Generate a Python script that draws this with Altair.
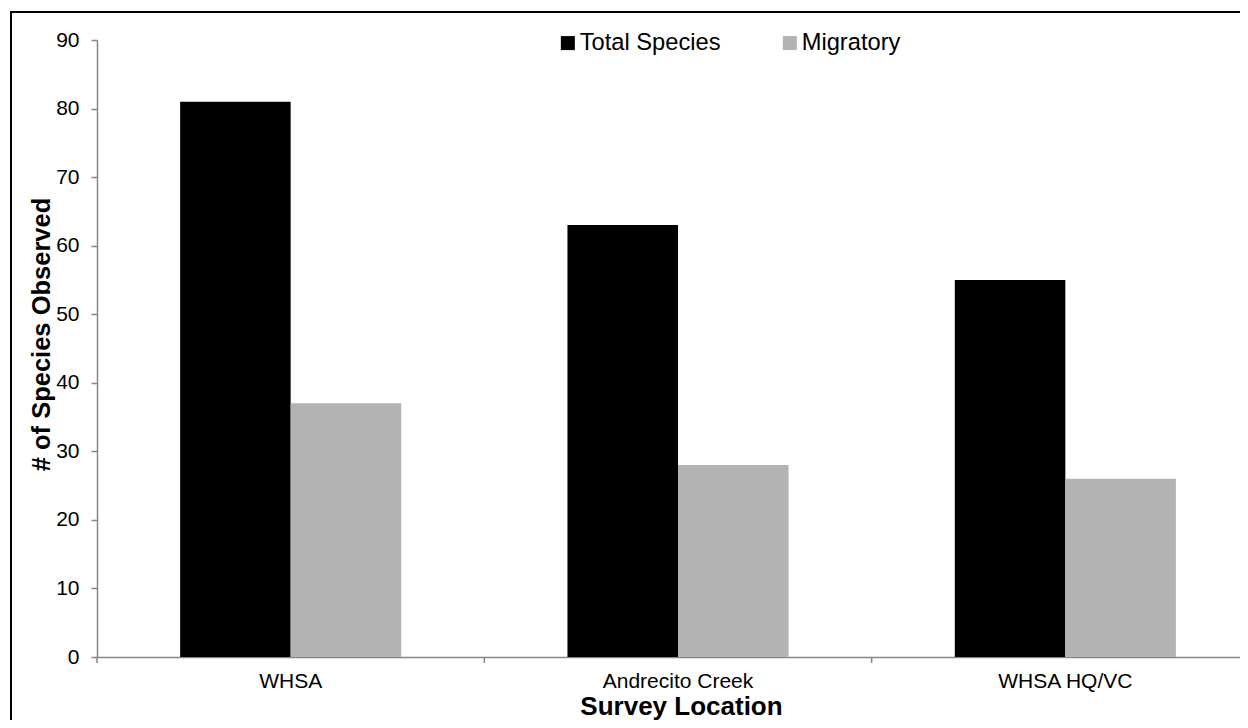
import altair as alt
import pandas as pd

# ---- data ----
locations = ["WHSA", "Andrecito Creek", "WHSA HQ/VC"]
total_species = [81, 63, 55]
migratory = [37, 28, 26]
series_names = ["Total Species", "Migratory"]
series_colors = ["#000000", "#b3b3b3"]
y_ticks = [0, 10, 20, 30, 40, 50, 60, 70, 80, 90]

rows = []
for loc, t, m in zip(locations, total_species, migratory):
    rows.append({"loc": loc, "series": series_names[0], "value": t})
    rows.append({"loc": loc, "series": series_names[1], "value": m})
df = pd.DataFrame(rows)
ticks_df = pd.DataFrame({"loc": locations})
frame_df = pd.DataFrame({"k": [0]})

W = 1143          # visible plot width (the original chart is cropped on the right)
BAND_RANGE = 1162  # full width of the three category bands
H = 617
AXIS = "#868686"
FONT = "Liberation Sans"

x_scale = alt.Scale(domain=locations, range=[0, BAND_RANGE], paddingInner=0, paddingOuter=0)

x_axis = alt.Axis(
    title="Survey Location",
    ticks=False,
    labelAngle=0,
    labelFontSize=21,
    labelFont=FONT,
    labelPadding=13,
    labelColor="#000000",
    domainColor=AXIS,
    domainWidth=1.5,
    titleFontSize=26,
    titleFont=FONT,
    titleFontWeight="bold",
    titleX=584,
    titleY=57,
    titleAlign="center",
    titleBaseline="alphabetic",
    titleColor="#000000",
)

bars = alt.Chart(df).mark_bar(strokeWidth=0).encode(
    x=alt.X("loc:N", scale=x_scale, sort=locations, axis=x_axis),
    xOffset=alt.XOffset(
        "series:N",
        sort=series_names,
        scale=alt.Scale(domain=series_names, paddingInner=0, paddingOuter=0.752),
    ),
    y=alt.Y(
        "value:Q",
        scale=alt.Scale(domain=[0, 90], nice=False),
        axis=alt.Axis(
            values=y_ticks,
            title="# of Species Observed",
            grid=False,
            tickSize=6,
            tickColor=AXIS,
            tickWidth=1.5,
            domainColor=AXIS,
            domainWidth=1.5,
            labelFontSize=21,
            labelFont=FONT,
            labelPadding=12,
            labelColor="#000000",
            labelFlush=False,
            titleFontSize=25.5,
            titleFont=FONT,
            titleFontWeight="bold",
            titleAngle=270,
            titleX=-48,
            titleY=294,
            titleAlign="center",
            titleBaseline="alphabetic",
            titleColor="#000000",
        ),
    ),
    color=alt.Color(
        "series:N",
        scale=alt.Scale(domain=series_names, range=series_colors),
        legend=alt.Legend(
            title=None,
            orient="none",
            legendX=459,
            legendY=-9,
            direction="horizontal",
            symbolType="square",
            symbolSize=196,
            symbolStrokeWidth=0,
            symbolOpacity=1,
            labelFontSize=23.7,
            labelFont=FONT,
            labelColor="#000000",
            labelOffset=0,
            columnPadding=57,
            padding=0,
        ),
    ),
)

cat_ticks = alt.Chart(ticks_df).mark_rule(color=AXIS, strokeWidth=1.5).encode(
    x=alt.X("loc:N", bandPosition=0, sort=locations, scale=x_scale, axis=x_axis),
    y=alt.value(H),
    y2=alt.value(H + 6),
)

# outer chart border (only its top and left edges fall inside the cropped picture)
frame_top = alt.Chart(frame_df).mark_rule(color="#000000", strokeWidth=2).encode(
    x=alt.value(-87),
    x2=alt.value(W),
    y=alt.value(-28),
)
frame_left = alt.Chart(frame_df).mark_rule(color="#000000", strokeWidth=2).encode(
    x=alt.value(-86),
    y=alt.value(-29),
    y2=alt.value(H + 63),
)

chart = (
    alt.layer(bars, cat_ticks, frame_top, frame_left)
    .properties(
        width=W,
        height=H,
        padding={"left": 89, "top": 32, "right": 0, "bottom": 63},
        autosize=alt.AutoSizeParams(type="none"),
        background="#ffffff",
    )
    .configure(font=FONT)
    .configure_view(stroke="transparent", strokeWidth=0, fill="transparent")
)

chart.save("out.html", embed_options={"renderer": "svg", "actions": False})
